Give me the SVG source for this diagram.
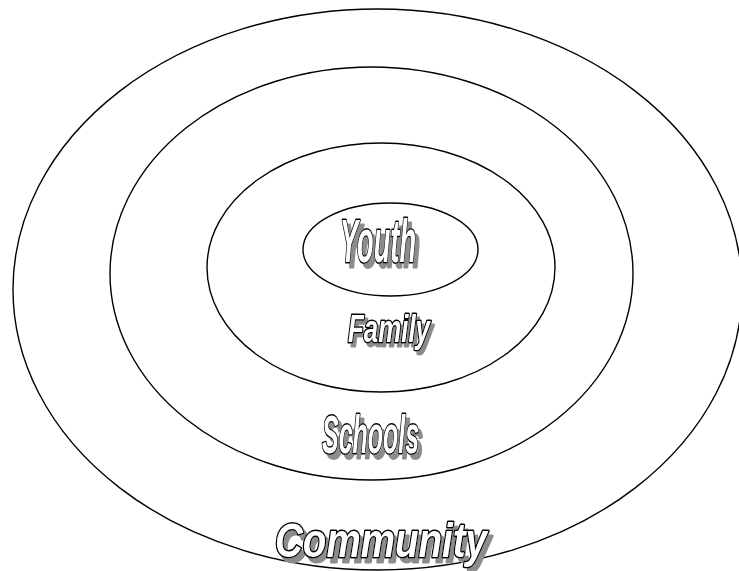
<svg xmlns="http://www.w3.org/2000/svg" width="739" height="571" viewBox="0 0 739 571">
<style>
.ring{fill:none;stroke:#000;stroke-width:1.4}
.lbl{font-family:"Liberation Sans",Arial,sans-serif;font-weight:bold;font-style:italic;fill:#fff;stroke:#000;stroke-width:3;paint-order:stroke;stroke-linejoin:round}
</style>
<defs>
<filter id="shadow" x="-10%" y="-20%" width="130%" height="150%">
<feOffset in="SourceAlpha" dx="4" dy="5" result="o"/>
<feFlood flood-color="#8c8c8c"/>
<feComposite in2="o" operator="in" result="s"/>
<feMerge><feMergeNode in="s"/><feMergeNode in="SourceGraphic"/></feMerge>
</filter>
<filter id="shadowS" x="-10%" y="-20%" width="130%" height="150%">
<feOffset in="SourceAlpha" dx="3" dy="4" result="o"/>
<feFlood flood-color="#8c8c8c"/>
<feComposite in2="o" operator="in" result="s"/>
<feMerge><feMergeNode in="s"/><feMergeNode in="SourceGraphic"/></feMerge>
</filter>
</defs>
<rect width="739" height="571" fill="#fff"/>
<g id="community">
<ellipse class="ring" cx="377.5" cy="289.5" rx="364.5" ry="280.5"/>
<text class="lbl" filter="url(#shadow)" x="275" y="557" font-size="48" textLength="212" lengthAdjust="spacingAndGlyphs">Community</text>
</g>
<g id="schools">
<ellipse class="ring" cx="371.5" cy="273.5" rx="261.5" ry="206.5"/>
<text class="lbl" filter="url(#shadow)" x="322" y="453" font-size="54" textLength="97" lengthAdjust="spacingAndGlyphs">Schools</text>
</g>
<g id="family">
<ellipse class="ring" cx="381" cy="267.5" rx="174" ry="124.5"/>
<text class="lbl" filter="url(#shadowS)" x="348" y="342" font-size="38" textLength="82" lengthAdjust="spacingAndGlyphs">Family</text>
</g>
<g id="youth">
<ellipse class="ring" cx="390.5" cy="249.5" rx="87.5" ry="46.5"/>
<text class="lbl" filter="url(#shadow)" x="340" y="262" font-size="61" textLength="76" lengthAdjust="spacingAndGlyphs">Youth</text>
</g>
<g id="connectors"></g>
</svg>
